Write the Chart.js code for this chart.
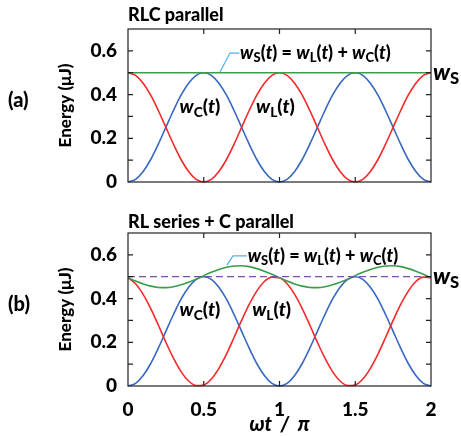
<!DOCTYPE html>
<html>
<head>
<meta charset="utf-8">
<script src="https://cdn.jsdelivr.net/npm/chart.js@4.4.1/dist/chart.umd.min.js"></script>
<style>
  body { margin: 0; background: #fff; }
  #wrap { position: relative; width: 461px; height: 437px; }
  #chartA { position: absolute; left: 0; top: 0; }
  #chartB { position: absolute; left: 0; top: 200px; }
</style>
</head>
<body>
<div id="wrap">
  <canvas id="chartA" width="461" height="200"></canvas>
  <canvas id="chartB" width="461" height="237"></canvas>
</div>
<script>
// phase axis (omega t / pi)
const phase = [0, 0.05, 0.1, 0.15, 0.2, 0.25, 0.3, 0.35, 0.4, 0.45, 0.5, 0.55, 0.6, 0.65, 0.7, 0.75, 0.8, 0.85, 0.9, 0.95,
  1, 1.05, 1.1, 1.15, 1.2, 1.25, 1.3, 1.35, 1.4, 1.45, 1.5, 1.55, 1.6, 1.65, 1.7, 1.75, 1.8, 1.85, 1.9, 1.95, 2];

// (a) RLC parallel
const wCa = [0, .012, .048, .103, .173, .25, .327, .397, .452, .488, .5, .488, .452, .397, .327, .25, .173, .103, .048, .012,
  0, .012, .048, .103, .173, .25, .327, .397, .452, .488, .5, .488, .452, .397, .327, .25, .173, .103, .048, .012, 0];
const wLa = [.5, .488, .452, .397, .327, .25, .173, .103, .048, .012, 0, .012, .048, .103, .173, .25, .327, .397, .452, .488,
  .5, .488, .452, .397, .327, .25, .173, .103, .048, .012, 0, .012, .048, .103, .173, .25, .327, .397, .452, .488, .5];
const wsPhase = [0, 2];
const wSa = [0.5, 0.5];

// (b) RL series + C parallel
const wCb = [0, .012, .048, .103, .173, .25, .327, .397, .452, .488, .5, .488, .452, .397, .327, .25, .173, .103, .048, .012,
  0, .012, .048, .103, .173, .25, .327, .397, .452, .488, .5, .488, .452, .397, .327, .25, .173, .103, .048, .012, 0];
const wLb = [.495, .468, .419, .354, .279, .2, .127, .066, .023, .002, .005, .032, .081, .146, .222, .3, .373, .434, .478, .498,
  .495, .468, .419, .354, .279, .2, .127, .066, .023, .002, .005, .032, .081, .146, .222, .3, .373, .434, .478, .498, .495];
const wSb = [.495, .48, .467, .457, .451, .45, .454, .463, .475, .489, .505, .52, .533, .543, .549, .55, .546, .537, .525, .511,
  .495, .48, .467, .457, .451, .45, .454, .463, .475, .489, .505, .52, .533, .543, .549, .55, .546, .537, .525, .511, .495];
const WSb = [0.5, 0.5];

const yTickVals = [0, 0.2, 0.4, 0.6];
const yMarkVals = [0.1, 0.2, 0.3, 0.4, 0.5, 0.6];
const xTickVals = [0, 0.5, 1, 1.5, 2];
const xMarkVals = [0.5, 1, 1.5];

const RED = '#f42a2a', BLUE = '#3768c0', GREEN = '#3a9d4a', CYAN = '#4ab4e8', PURPLE = '#7a4fa8';
const FONT = 'Lato';
const W = 900;

const pts = (xs, ys) => xs.map((x, i) => ({ x: x, y: ys[i] }));

// bold text with italic letters and upright subscripts
function drawRich(ctx, x, y, parts, size) {
  ctx.save();
  ctx.textBaseline = 'middle';
  ctx.fillStyle = '#000';
  parts.forEach(([t, s]) => {
    const sz = s === 's' ? size * 0.72 : size;
    ctx.font = (s === 'i' ? 'italic ' : '') + W + ' ' + sz + 'px ' + FONT;
    ctx.fillText(t, x, s === 's' ? y + size * 0.28 : y);
    x += ctx.measureText(t).width;
  });
  ctx.restore();
}

const eqParts = [['w', 'i'], ['S', 's'], ['(', 'n'], ['t', 'i'], [') = ', 'n'], ['w', 'i'], ['L', 's'], ['(', 'n'], ['t', 'i'],
  [') + ', 'n'], ['w', 'i'], ['C', 's'], ['(', 'n'], ['t', 'i'], [')', 'n']];
const wcParts = [['w', 'i'], ['C', 's'], ['(', 'n'], ['t', 'i'], [')', 'n']];
const wlParts = [['w', 'i'], ['L', 's'], ['(', 'n'], ['t', 'i'], [')', 'n']];
const WsParts = [['w', 'i'], ['S', 's']];

const framePlugin = {
  id: 'frame',
  afterDraw(chart, args, opts) {
    const { ctx, chartArea: a, scales: { x, y } } = chart;
    ctx.save();
    ctx.strokeStyle = '#222';
    ctx.lineWidth = 1.2;
    ctx.strokeRect(a.left, a.top, a.right - a.left, a.bottom - a.top);
    ctx.beginPath();
    yMarkVals.forEach(v => {
      const py = y.getPixelForValue(v);
      ctx.moveTo(a.left, py); ctx.lineTo(a.left + 5, py);
      ctx.moveTo(a.right, py); ctx.lineTo(a.right - 5, py);
    });
    xMarkVals.forEach(v => {
      const px = x.getPixelForValue(v);
      ctx.moveTo(px, a.bottom); ctx.lineTo(px, a.bottom - 5);
      ctx.moveTo(px, a.top); ctx.lineTo(px, a.top + 5);
    });
    ctx.stroke();

    // leader line to the sum curve
    const L = opts.leader;
    ctx.strokeStyle = CYAN;
    ctx.lineWidth = 1.2;
    ctx.beginPath();
    L.forEach(([vx, vy], i) => {
      const px = x.getPixelForValue(vx), py = y.getPixelForValue(vy);
      i ? ctx.lineTo(px, py) : ctx.moveTo(px, py);
    });
    ctx.stroke();

    // labels
    drawRich(ctx, x.getPixelForValue(opts.eq[0]), y.getPixelForValue(opts.eq[1]), eqParts, 18);
    drawRich(ctx, x.getPixelForValue(opts.wc[0]), y.getPixelForValue(opts.wc[1]), wcParts, 19);
    drawRich(ctx, x.getPixelForValue(opts.wl[0]), y.getPixelForValue(opts.wl[1]), wlParts, 19);
    drawRich(ctx, a.right + 2, y.getPixelForValue(0.5), WsParts, 23);

    ctx.font = W + ' 18px ' + FONT;
    ctx.textBaseline = 'middle';
    ctx.fillStyle = '#000';
    ctx.fillText(opts.title, a.left, opts.titleY);
    ctx.font = W + ' 20px ' + FONT;
    ctx.fillText(opts.tag, 8, (a.top + a.bottom) / 2 - 5);
    ctx.restore();
  }
};

function yAxis() {
  return {
    min: 0, max: 0.7,
    afterBuildTicks: s => { s.ticks = yTickVals.map(v => ({ value: v })); },
    afterFit: s => { s.width = 128; },
    grid: { display: false },
    border: { display: false },
    ticks: {
      padding: 3, color: '#000',
      font: { family: FONT, size: 19, weight: W },
      callback: v => v === 0 ? '0' : v.toFixed(1)
    },
    title: {
      display: true, text: 'Energy (\u03bcJ)', color: '#000',
      font: { family: FONT, size: 17, weight: W },
      padding: { top: 55, bottom: 0 }
    }
  };
}

function line(data, color, extra) {
  return Object.assign({
    data: data, borderColor: color, borderWidth: 1.6, pointRadius: 0,
    cubicInterpolationMode: 'monotone', fill: false, clip: false
  }, extra || {});
}

new Chart(document.getElementById('chartA'), {
  type: 'line',
  data: {
    datasets: [
      line(pts(wsPhase, wSa), GREEN),
      line(pts(phase, wLa), RED),
      line(pts(phase, wCa), BLUE)
    ]
  },
  options: {
    responsive: false, animation: false,
    layout: { padding: { left: 0, top: 29, right: 30, bottom: 18 } },
    plugins: {
      legend: { display: false }, tooltip: { enabled: false },
      frame: {
        title: 'RLC parallel', titleY: 15, tag: '(a)',
        eq: [0.74, 0.59], wc: [0.34, 0.343], wl: [0.845, 0.343],
        leader: [[0.735, 0.59], [0.673, 0.59], [0.607, 0.503]]
      }
    },
    scales: {
      x: {
        type: 'linear', min: 0, max: 2,
        afterFit: s => { s.height = 0; },
        grid: { display: false }, border: { display: false },
        ticks: { display: false }
      },
      y: yAxis()
    }
  },
  plugins: [framePlugin]
});

new Chart(document.getElementById('chartB'), {
  type: 'line',
  data: {
    datasets: [
      line(pts(wsPhase, WSb), PURPLE, { borderDash: [7, 4], borderWidth: 1.2 }),
      line(pts(phase, wSb), GREEN),
      line(pts(phase, wLb), RED),
      line(pts(phase, wCb), BLUE)
    ]
  },
  options: {
    responsive: false, animation: false,
    layout: { padding: { left: 0, top: 33, right: 30, bottom: 0 } },
    plugins: {
      legend: { display: false }, tooltip: { enabled: false },
      frame: {
        title: 'RL series + C parallel', titleY: 22, tag: '(b)',
        eq: [0.79, 0.595], wc: [0.34, 0.348], wl: [0.82, 0.348],
        leader: [[0.785, 0.595], [0.693, 0.595], [0.653, 0.553]]
      }
    },
    scales: {
      x: {
        type: 'linear', min: 0, max: 2,
        afterBuildTicks: s => { s.ticks = xTickVals.map(v => ({ value: v })); },
        afterFit: s => { s.height = 51; },
        grid: { display: false }, border: { display: false },
        ticks: {
          padding: 4, color: '#000', maxRotation: 0,
          font: { family: FONT, size: 19, weight: W },
          callback: v => String(v)
        },
        title: {
          display: true, text: '\u03c9t  /  \u03c0', color: '#000',
          font: { family: FONT, size: 20, weight: W, style: 'italic' },
          padding: { top: 0, bottom: 0 }
        }
      },
      y: yAxis()
    }
  },
  plugins: [framePlugin]
});
</script>
</body>
</html>
